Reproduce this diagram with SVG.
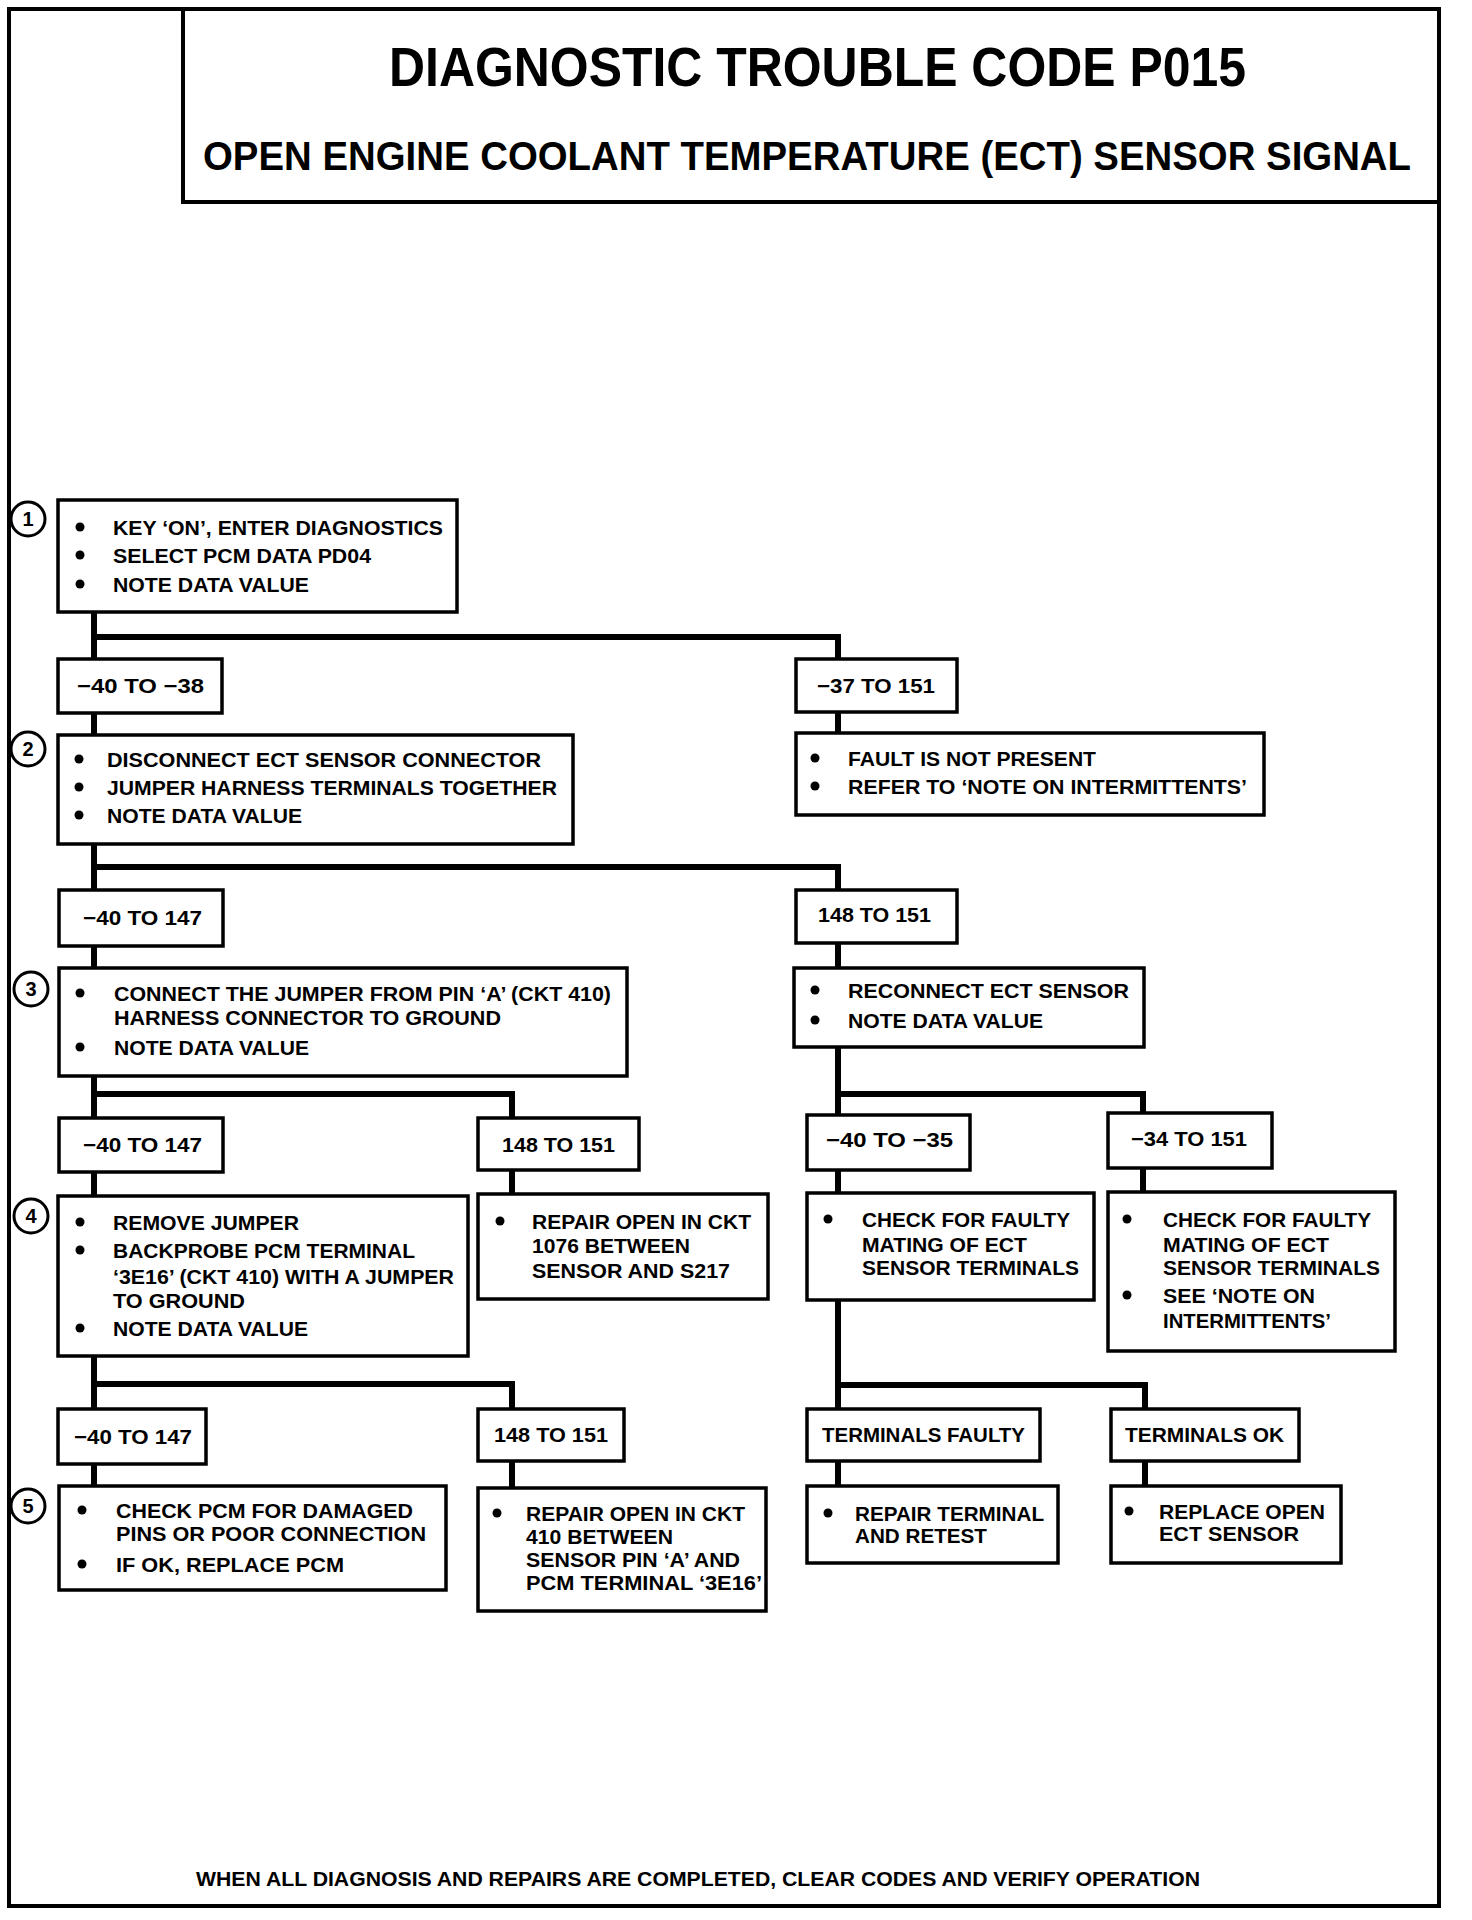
<svg xmlns="http://www.w3.org/2000/svg" width="1472" height="1920" viewBox="0 0 1472 1920">
<style>
.box{fill:#fff;stroke:#000;stroke-width:3.5}
.conn{fill:none;stroke:#000;stroke-width:6;stroke-linecap:square}
.t{font-family:"Liberation Sans",Arial,Helvetica,sans-serif;font-weight:bold;font-size:21px;fill:#000}
.title{font-size:55px}
.sub{font-size:40px}
.foot{font-size:20px}
.num{font-family:"Liberation Sans",Arial,sans-serif;font-weight:bold;font-size:20px;fill:#000;text-anchor:middle}
.ring{fill:#fff;stroke:#000;stroke-width:3}
.dot{fill:#000}
.frame{fill:none;stroke:#000;stroke-width:4}
</style>
<rect x="0" y="0" width="1472" height="1920" fill="#fff"/>
<g id="frame">
<rect class="frame" x="9" y="9" width="1430" height="1897"/>
<rect class="frame" x="183" y="9" width="1256" height="193" stroke-width="5"/>
<text class="t title" x="389" y="86" textLength="857" lengthAdjust="spacingAndGlyphs">DIAGNOSTIC TROUBLE CODE P015</text>
<text class="t sub" x="203" y="170" textLength="1208" lengthAdjust="spacingAndGlyphs">OPEN ENGINE COOLANT TEMPERATURE (ECT) SENSOR SIGNAL</text>
<text class="t foot" x="196" y="1886" textLength="1004" lengthAdjust="spacingAndGlyphs">WHEN ALL DIAGNOSIS AND REPAIRS ARE COMPLETED, CLEAR CODES AND VERIFY OPERATION</text>
</g>
<g id="connectors">
<path class="conn" d="M94,612 V659 M94,637 H838 V659"/>
<path class="conn" d="M94,713 V735 M838,712 V733"/>
<path class="conn" d="M94,844 V890 M94,867 H838 V890"/>
<path class="conn" d="M94,946 V968 M838,943 V968"/>
<path class="conn" d="M94,1076 V1118 M94,1094 H512 V1118"/>
<path class="conn" d="M94,1172 V1196 M512,1170 V1194"/>
<path class="conn" d="M838,1047 V1115 M838,1094 H1143 V1113"/>
<path class="conn" d="M838,1170 V1193 M1143,1168 V1192"/>
<path class="conn" d="M94,1356 V1409 M94,1384 H512 V1409"/>
<path class="conn" d="M94,1464 V1486 M512,1461 V1488"/>
<path class="conn" d="M838,1300 V1409 M838,1385 H1145 V1409"/>
<path class="conn" d="M838,1461 V1486 M1145,1461 V1486"/>
</g>
<g id="step1">
<circle class="ring" cx="28" cy="519" r="17"/><text class="num" x="28" y="526">1</text>
<rect class="box" x="58" y="500" width="399" height="112"/>
<circle class="dot" cx="80" cy="527" r="4.5"/><text class="t" x="113" y="535" textLength="330" lengthAdjust="spacingAndGlyphs">KEY ‘ON’, ENTER DIAGNOSTICS</text>
<circle class="dot" cx="80" cy="555" r="4.5"/><text class="t" x="113" y="563" textLength="258" lengthAdjust="spacingAndGlyphs">SELECT PCM DATA PD04</text>
<circle class="dot" cx="80" cy="584" r="4.5"/><text class="t" x="113" y="592" textLength="196" lengthAdjust="spacingAndGlyphs">NOTE DATA VALUE</text>
</g>
<g id="r1a">
<rect class="box" x="58" y="659" width="164" height="54"/>
<text class="t" x="77" y="693" textLength="127" lengthAdjust="spacingAndGlyphs">−40 TO −38</text>
</g>
<g id="r1b">
<rect class="box" x="796" y="659" width="161" height="53"/>
<text class="t" x="817" y="693" textLength="118" lengthAdjust="spacingAndGlyphs">−37 TO 151</text>
</g>
<g id="fault">
<rect class="box" x="796" y="733" width="468" height="82"/>
<circle class="dot" cx="815" cy="758" r="4.5"/><text class="t" x="848" y="766" textLength="248" lengthAdjust="spacingAndGlyphs">FAULT IS NOT PRESENT</text>
<circle class="dot" cx="815" cy="786" r="4.5"/><text class="t" x="848" y="794" textLength="399" lengthAdjust="spacingAndGlyphs">REFER TO ‘NOTE ON INTERMITTENTS’</text>
</g>
<g id="step2">
<circle class="ring" cx="28" cy="749" r="17"/><text class="num" x="28" y="756">2</text>
<rect class="box" x="58" y="735" width="515" height="109"/>
<circle class="dot" cx="79" cy="759" r="4.5"/><text class="t" x="107" y="767" textLength="434" lengthAdjust="spacingAndGlyphs">DISCONNECT ECT SENSOR CONNECTOR</text>
<circle class="dot" cx="79" cy="787" r="4.5"/><text class="t" x="107" y="795" textLength="450" lengthAdjust="spacingAndGlyphs">JUMPER HARNESS TERMINALS TOGETHER</text>
<circle class="dot" cx="79" cy="815" r="4.5"/><text class="t" x="107" y="823" textLength="195" lengthAdjust="spacingAndGlyphs">NOTE DATA VALUE</text>
</g>
<g id="r2a">
<rect class="box" x="59" y="890" width="164" height="56"/>
<text class="t" x="83" y="925" textLength="119" lengthAdjust="spacingAndGlyphs">−40 TO 147</text>
</g>
<g id="r2b">
<rect class="box" x="796" y="890" width="161" height="53"/>
<text class="t" x="818" y="922" textLength="113" lengthAdjust="spacingAndGlyphs">148 TO 151</text>
</g>
<g id="step3">
<circle class="ring" cx="31" cy="989" r="17"/><text class="num" x="31" y="996">3</text>
<rect class="box" x="59" y="968" width="568" height="108"/>
<circle class="dot" cx="80" cy="993" r="4.5"/><text class="t" x="114" y="1001" textLength="497" lengthAdjust="spacingAndGlyphs">CONNECT THE JUMPER FROM PIN ‘A’ (CKT 410)</text>
<text class="t" x="114" y="1025" textLength="387" lengthAdjust="spacingAndGlyphs">HARNESS CONNECTOR TO GROUND</text>
<circle class="dot" cx="80" cy="1047" r="4.5"/><text class="t" x="114" y="1055" textLength="195" lengthAdjust="spacingAndGlyphs">NOTE DATA VALUE</text>
</g>
<g id="reconnect">
<rect class="box" x="794" y="968" width="350" height="79"/>
<circle class="dot" cx="815" cy="990" r="4.5"/><text class="t" x="848" y="998" textLength="281" lengthAdjust="spacingAndGlyphs">RECONNECT ECT SENSOR</text>
<circle class="dot" cx="815" cy="1020" r="4.5"/><text class="t" x="848" y="1028" textLength="195" lengthAdjust="spacingAndGlyphs">NOTE DATA VALUE</text>
</g>
<g id="r3a">
<rect class="box" x="59" y="1118" width="164" height="54"/>
<text class="t" x="83" y="1152" textLength="119" lengthAdjust="spacingAndGlyphs">−40 TO 147</text>
</g>
<g id="r3b">
<rect class="box" x="478" y="1118" width="161" height="52"/>
<text class="t" x="502" y="1152" textLength="113" lengthAdjust="spacingAndGlyphs">148 TO 151</text>
</g>
<g id="r3c">
<rect class="box" x="807" y="1115" width="163" height="55"/>
<text class="t" x="826" y="1147" textLength="127" lengthAdjust="spacingAndGlyphs">−40 TO −35</text>
</g>
<g id="r3d">
<rect class="box" x="1108" y="1113" width="164" height="55"/>
<text class="t" x="1131" y="1146" textLength="116" lengthAdjust="spacingAndGlyphs">−34 TO 151</text>
</g>
<g id="step4">
<circle class="ring" cx="31" cy="1216" r="17"/><text class="num" x="31" y="1223">4</text>
<rect class="box" x="58" y="1196" width="410" height="160"/>
<circle class="dot" cx="80" cy="1222" r="4.5"/><text class="t" x="113" y="1230" textLength="186" lengthAdjust="spacingAndGlyphs">REMOVE JUMPER</text>
<circle class="dot" cx="80" cy="1250" r="4.5"/><text class="t" x="113" y="1258" textLength="302" lengthAdjust="spacingAndGlyphs">BACKPROBE PCM TERMINAL</text>
<text class="t" x="113" y="1284" textLength="341" lengthAdjust="spacingAndGlyphs">‘3E16’ (CKT 410) WITH A JUMPER</text>
<text class="t" x="113" y="1308" textLength="132" lengthAdjust="spacingAndGlyphs">TO GROUND</text>
<circle class="dot" cx="80" cy="1328" r="4.5"/><text class="t" x="113" y="1336" textLength="195" lengthAdjust="spacingAndGlyphs">NOTE DATA VALUE</text>
</g>
<g id="repair1076">
<rect class="box" x="478" y="1194" width="290" height="105"/>
<circle class="dot" cx="500" cy="1221" r="4.5"/><text class="t" x="532" y="1229" textLength="219" lengthAdjust="spacingAndGlyphs">REPAIR OPEN IN CKT</text>
<text class="t" x="532" y="1253" textLength="158" lengthAdjust="spacingAndGlyphs">1076 BETWEEN</text>
<text class="t" x="532" y="1278" textLength="198" lengthAdjust="spacingAndGlyphs">SENSOR AND S217</text>
</g>
<g id="check1">
<rect class="box" x="807" y="1193" width="287" height="107"/>
<circle class="dot" cx="828" cy="1219" r="4.5"/><text class="t" x="862" y="1227" textLength="208" lengthAdjust="spacingAndGlyphs">CHECK FOR FAULTY</text>
<text class="t" x="862" y="1252" textLength="165" lengthAdjust="spacingAndGlyphs">MATING OF ECT</text>
<text class="t" x="862" y="1275" textLength="217" lengthAdjust="spacingAndGlyphs">SENSOR TERMINALS</text>
</g>
<g id="check2">
<rect class="box" x="1108" y="1192" width="287" height="159"/>
<circle class="dot" cx="1127" cy="1219" r="4.5"/><text class="t" x="1163" y="1227" textLength="208" lengthAdjust="spacingAndGlyphs">CHECK FOR FAULTY</text>
<text class="t" x="1163" y="1252" textLength="166" lengthAdjust="spacingAndGlyphs">MATING OF ECT</text>
<text class="t" x="1163" y="1275" textLength="217" lengthAdjust="spacingAndGlyphs">SENSOR TERMINALS</text>
<circle class="dot" cx="1127" cy="1295" r="4.5"/><text class="t" x="1163" y="1303" textLength="152" lengthAdjust="spacingAndGlyphs">SEE ‘NOTE ON</text>
<text class="t" x="1163" y="1328" textLength="168" lengthAdjust="spacingAndGlyphs">INTERMITTENTS’</text>
</g>
<g id="r4a">
<rect class="box" x="58" y="1409" width="148" height="55"/>
<text class="t" x="74" y="1444" textLength="118" lengthAdjust="spacingAndGlyphs">−40 TO 147</text>
</g>
<g id="r4b">
<rect class="box" x="478" y="1409" width="146" height="52"/>
<text class="t" x="494" y="1442" textLength="114" lengthAdjust="spacingAndGlyphs">148 TO 151</text>
</g>
<g id="termfaulty">
<rect class="box" x="807" y="1409" width="233" height="52"/>
<text class="t" x="822" y="1442" textLength="203" lengthAdjust="spacingAndGlyphs">TERMINALS FAULTY</text>
</g>
<g id="termok">
<rect class="box" x="1111" y="1409" width="188" height="52"/>
<text class="t" x="1125" y="1442" textLength="159" lengthAdjust="spacingAndGlyphs">TERMINALS OK</text>
</g>
<g id="step5">
<circle class="ring" cx="28" cy="1506" r="17"/><text class="num" x="28" y="1513">5</text>
<rect class="box" x="59" y="1486" width="387" height="104"/>
<circle class="dot" cx="82" cy="1510" r="4.5"/><text class="t" x="116" y="1518" textLength="297" lengthAdjust="spacingAndGlyphs">CHECK PCM FOR DAMAGED</text>
<text class="t" x="116" y="1541" textLength="310" lengthAdjust="spacingAndGlyphs">PINS OR POOR CONNECTION</text>
<circle class="dot" cx="82" cy="1564" r="4.5"/><text class="t" x="116" y="1572" textLength="228" lengthAdjust="spacingAndGlyphs">IF OK,  REPLACE PCM</text>
</g>
<g id="repair410">
<rect class="box" x="478" y="1488" width="288" height="123"/>
<circle class="dot" cx="497" cy="1513" r="4.5"/><text class="t" x="526" y="1521" textLength="219" lengthAdjust="spacingAndGlyphs">REPAIR OPEN IN CKT</text>
<text class="t" x="526" y="1544" textLength="147" lengthAdjust="spacingAndGlyphs">410 BETWEEN</text>
<text class="t" x="526" y="1567" textLength="214" lengthAdjust="spacingAndGlyphs">SENSOR PIN ‘A’ AND</text>
<text class="t" x="526" y="1590" textLength="236" lengthAdjust="spacingAndGlyphs">PCM TERMINAL ‘3E16’</text>
</g>
<g id="repairterm">
<rect class="box" x="807" y="1486" width="251" height="77"/>
<circle class="dot" cx="828" cy="1513" r="4.5"/><text class="t" x="855" y="1521" textLength="189" lengthAdjust="spacingAndGlyphs">REPAIR TERMINAL</text>
<text class="t" x="855" y="1543" textLength="132" lengthAdjust="spacingAndGlyphs">AND RETEST</text>
</g>
<g id="replace">
<rect class="box" x="1111" y="1486" width="230" height="77"/>
<circle class="dot" cx="1129" cy="1511" r="4.5"/><text class="t" x="1159" y="1519" textLength="166" lengthAdjust="spacingAndGlyphs">REPLACE OPEN</text>
<text class="t" x="1159" y="1541" textLength="140" lengthAdjust="spacingAndGlyphs">ECT SENSOR</text>
</g>
</svg>
